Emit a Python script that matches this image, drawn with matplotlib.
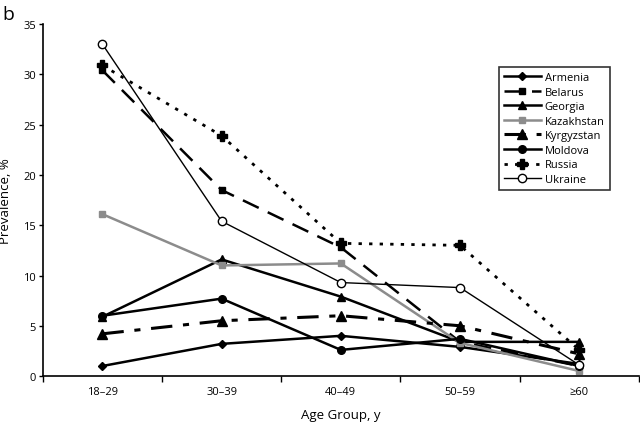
import numpy as np
import matplotlib
matplotlib.use("Agg")
import matplotlib.pyplot as plt

plt.rcParams["font.family"] = ["Open Sans", "DejaVu Sans"]

age_groups = ["18\u201329", "30\u201339", "40\u201349", "50\u201359", "\u226560"]

armenia = [1.0, 3.2, 4.0, 2.9, 1.2]
belarus = [30.4, 18.5, 12.8, 3.4, 1.0]
georgia = [5.9, 11.6, 7.9, 3.4, 3.4]
kazakhstan = [16.1, 11.0, 11.2, 3.3, 0.5]
kyrgyzstan = [4.2, 5.5, 6.0, 5.0, 2.2]
moldova = [6.0, 7.7, 2.6, 3.7, 1.0]
russia = [30.9, 23.9, 13.2, 13.0, 2.6]
ukraine = [33.0, 15.4, 9.3, 8.8, 1.1]

x = np.arange(len(age_groups)) + 0.5

fig = plt.figure(figsize=(6.4, 4.27), dpi=100)
ax = fig.add_axes([0.067, 0.117, 0.931, 0.824])

ax.plot(x, armenia, color="black", lw=1.8, marker="D", ms=3.8, label="Armenia")
ax.plot(x, belarus, color="black", lw=1.8, ls=(0, (7, 4)), marker="s", ms=5,
        label="Belarus")
ax.plot(x, georgia, color="black", lw=1.8, marker="^", ms=6, label="Georgia")
ax.plot(x, kazakhstan, color="#8c8c8c", lw=1.8, marker="s", ms=5,
        label="Kazakhstan")
ax.plot(x, kyrgyzstan, color="black", lw=2.2, ls=(0, (7, 3.5, 2, 3.5)),
        marker="^", ms=7, label="Kyrgyzstan")
ax.plot(x, moldova, color="black", lw=1.8, marker="o", ms=5.5, label="Moldova")
ax.plot(x, russia, color="black", lw=2.0, ls=(0, (1.2, 2.6)), marker="P", ms=7,
        label="Russia")
ax.plot(x, ukraine, color="black", lw=1.0, marker="o", ms=6,
        markerfacecolor="white", markeredgewidth=1.0, label="Ukraine")

ax.set_xlim(0, 5)
ax.set_ylim(0, 35)
ax.set_yticks(np.arange(0, 36, 5))
ax.set_xticks(np.arange(0, 6))
ax.set_xticklabels([])
ax.set_xticks(x, minor=True)
ax.set_xticklabels(age_groups, minor=True)
ax.tick_params(axis="x", which="minor", length=0, pad=7, labelsize=8)
ax.tick_params(axis="x", which="major", length=4, width=1)
ax.tick_params(axis="y", length=3, width=1, labelsize=8, pad=2)

for side in ["top", "right"]:
    ax.spines[side].set_visible(False)
for side in ["left", "bottom"]:
    ax.spines[side].set_linewidth(1.2)

ax.set_xlabel("Age Group, y", fontsize=9.5, labelpad=8)
ax.set_ylabel("Prevalence, %", fontsize=9.5, labelpad=8)

leg = ax.legend(loc="upper right", bbox_to_anchor=(0.951, 0.878), fontsize=8,
                frameon=True, fancybox=False, edgecolor="black",
                handlelength=3.4, handletextpad=0.3, borderpad=0.45,
                labelspacing=0.32, borderaxespad=0)
leg.get_frame().set_linewidth(1.2)

fig.text(0.003, 0.985, "b", fontsize=14, va="top", ha="left")

fig.savefig("out.png", dpi=100)
